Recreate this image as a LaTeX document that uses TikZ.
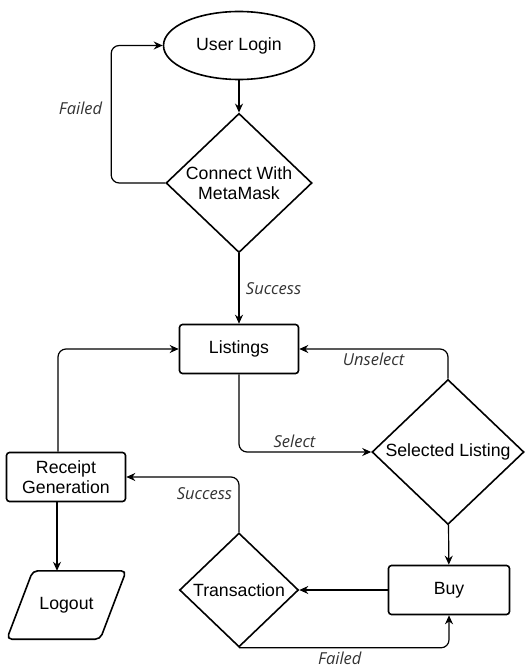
\documentclass[tikz,border=0pt]{standalone}
\usepackage{fontspec}
\setmainfont{Liberation Sans}
\newfontfamily\lblfont{Open Sans}
\usetikzlibrary{shapes.geometric,arrows.meta}

\begin{document}
\begin{tikzpicture}[x=1pt,y=-1pt,font=\fontsize{17.7}{20}\selectfont,
    box/.style={draw,line width=1.6pt,rounded corners=3pt,align=center,
      minimum width=119pt,minimum height=49pt},
    decision/.style={draw,diamond,line width=1.6pt,inner sep=0pt,align=center},
    flow/.style={line width=1.2pt,rounded corners=8pt,
      -{Stealth[length=9pt,width=8pt]}},
    lbl/.style={font=\lblfont\itshape\fontsize{16.5}{18}\selectfont,text=black!80}]
  \useasboundingbox (0,0) rectangle (525,668);
  \draw (239,45.5) node[draw,ellipse,line width=1.6pt,
    minimum width=151pt,minimum height=68pt] (login) {User Login};
  \draw (239,183) node[decision,minimum width=146pt,
    minimum height=139pt] (connect) {Connect With\\MetaMask};
  \draw (239,349) node[box] (listings) {Listings};
  \draw (448,452) node[decision,minimum width=152pt,
    minimum height=145pt] (selected) {Selected Listing};
  \draw (66,477) node[box] (receipt) {Receipt\\Generation};
  \draw (66.5,605) node[minimum width=119pt,minimum height=68pt] (logout) {Logout};
  \draw[line width=1.6pt,rounded corners=5pt] (logout.south west)
    -- ([xshift=-26pt]logout.south east) -- (logout.north east)
    -- ([xshift=26pt]logout.north west) -- cycle;
  \draw (239,590) node[decision,minimum width=119pt,
    minimum height=114pt] (transaction) {Transaction};
  \draw (449,590) node[box,minimum width=121pt] (buy) {Buy};

  \draw[flow] (login) -- (connect);
  \draw[flow] (connect.west) -- ++(-54,0)
    |- node[lbl,pos=.27,left=5pt] {Failed} (login.west);
  \draw[flow] (connect) -- node[lbl,right=3pt] {Success} (listings);
  \draw[flow] (listings) |- node[lbl,pos=.71,above] {Select} (selected);
  \draw[flow] (selected) |- node[lbl,pos=.75,below] {Unselect} (listings);
  \draw[flow] ([xshift=-8pt]receipt.north) |- (listings);
  \draw[flow] (transaction) |- node[lbl,pos=.35,left=3pt] {Success} (receipt);
  \draw[flow] ([xshift=-9pt]receipt.south)
    -- ([xshift=-9pt]receipt.south |- logout.north);
  \draw[flow] (selected) -- (buy);
  \draw[flow] (buy) -- (transaction);
  \draw[flow] (transaction.south) -| node[lbl,pos=.24,below] {Failed} (buy.south);
\end{tikzpicture}
\end{document}
